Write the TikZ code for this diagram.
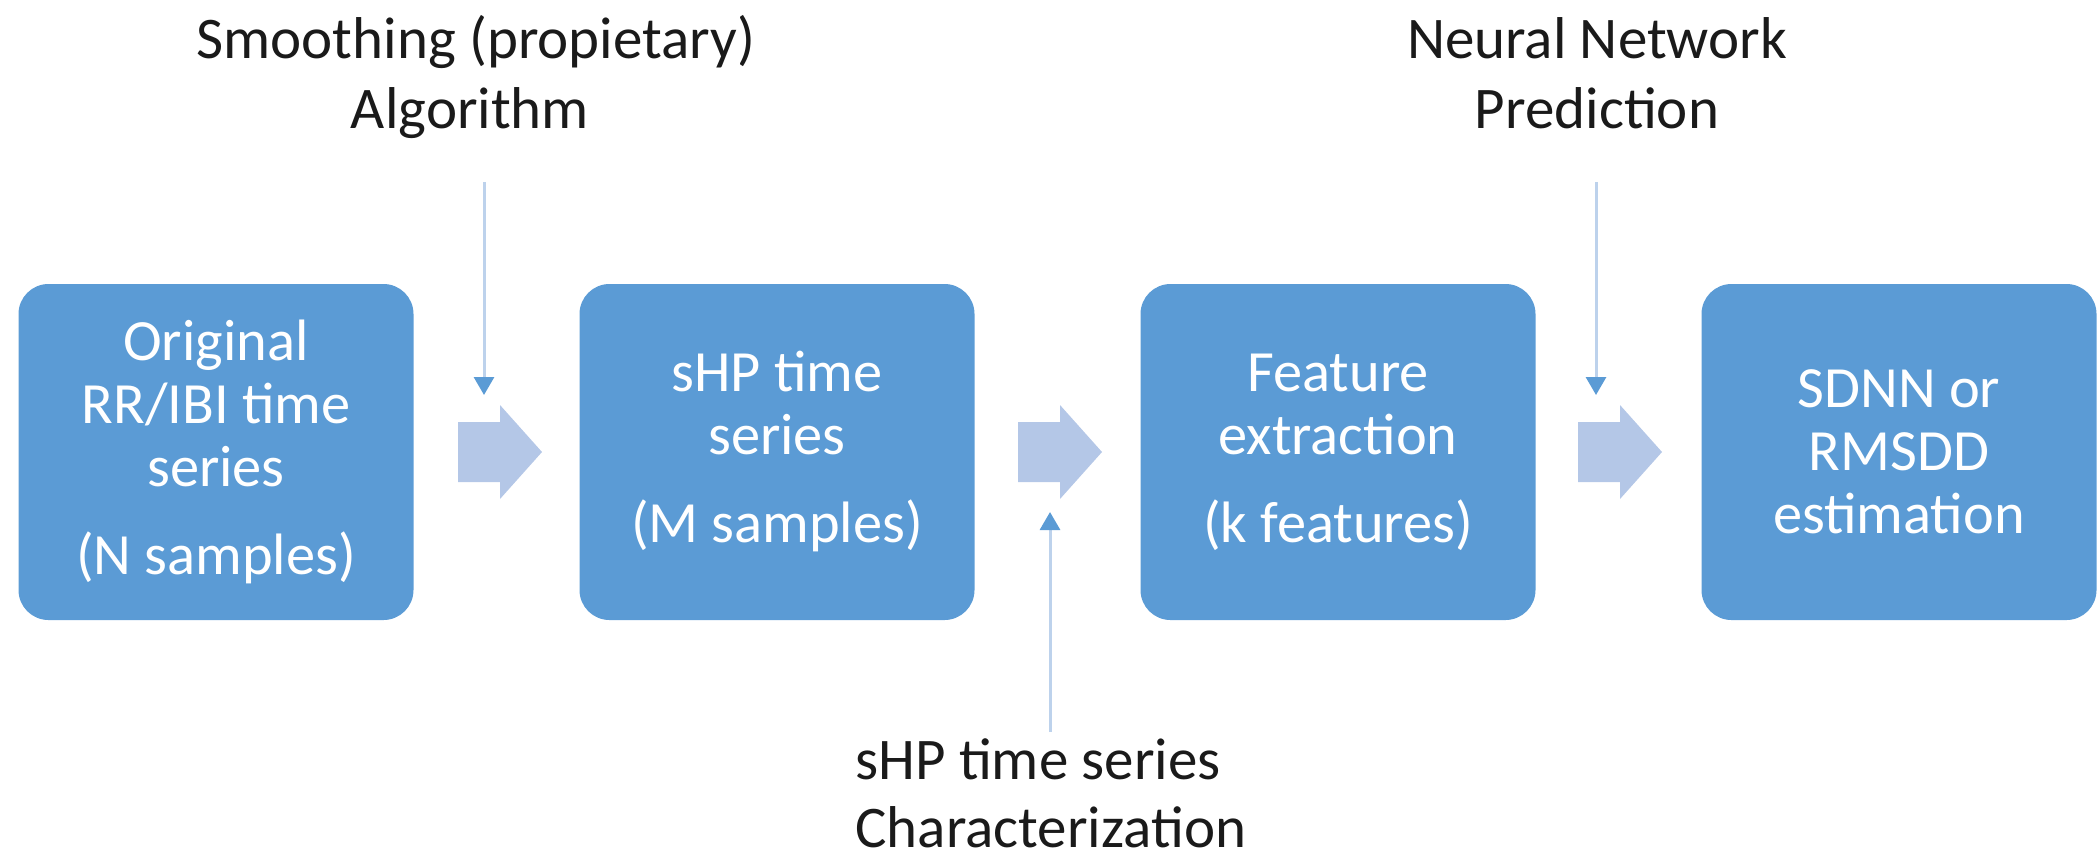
\documentclass[tikz,border=0pt]{standalone}
\usepackage{fontspec}
\setmainfont{Carlito}
\usetikzlibrary{arrows.meta}
\definecolor{boxblue}{HTML}{5B9BD5}
\definecolor{fatblue}{HTML}{B4C7E7}
\definecolor{lineblue}{HTML}{BDD2EC}
\definecolor{lbltext}{HTML}{1A1A1A}
\newcommand\fatarrow[1]{\fill[fatblue] ([shift={(0,-30)}]#1) -- ++(42,0) -- ++(0,-17) -- ++(42,47) -- ++(-42,47) -- ++(0,-17) -- ++(-42,0) -- cycle;}
\begin{document}
\begin{tikzpicture}[x=0.5pt,y=-0.5pt,
  stagebox/.style={fill=boxblue, rounded corners=15pt, minimum width=197.5pt, minimum height=168pt,
    inner sep=0pt, text=white, align=center, font=\fontsize{29.2}{31.5}\selectfont},
  lbl/.style={font=\fontsize{29.5}{35}\selectfont, text=lbltext, inner sep=0pt},
  thinarrow/.style={draw=lineblue, line width=1.5pt, -{Triangle[width=10pt,length=9pt,color=boxblue]}}
]
\useasboundingbox (0,0) rectangle (2098,858);

% stage boxes
\node[stagebox] (b1) at (216,452) {Original\\RR/IBI time\\series\\[12.5pt](N samples)};
\node[stagebox] (b2) at (777,452) {sHP time\\series\\[12.5pt](M samples)};
\node[stagebox] (b3) at (1338,452) {Feature\\extraction\\[12.5pt](k features)};
\node[stagebox] (b4) at (1899,452) {SDNN or\\RMSDD\\estimation};

% block arrows
\coordinate (fa1) at (458,452);
\coordinate (fa2) at (1018,452);
\coordinate (fa3) at (1578,452);
\fatarrow{fa1}
\fatarrow{fa2}
\fatarrow{fa3}

% labels
\node[lbl, anchor=base] (s1) at (476,58) {Smoothing (propietary)};
\node[lbl, anchor=base] (s2) at (470,128) {Algorithm};
\node[lbl, anchor=base] (n1) at (1597,58) {Neural Network};
\node[lbl, anchor=base] (n2) at (1597,128) {Prediction};
\node[lbl, anchor=base west] (c1) at (855,779) {sHP time series};
\node[lbl, anchor=base west] (c2) at (855,847) {Characterization};

% thin arrows
\coordinate (t1s) at (484,182);
\coordinate (t1e) at (484,395);
\coordinate (t2s) at (1050,732);
\coordinate (t2e) at (1050,512);
\coordinate (t3s) at (1596,182);
\coordinate (t3e) at (1596,395);
\draw[thinarrow] (t1s) -- (t1e);
\draw[thinarrow] (t2s) -- (t2e);
\draw[thinarrow] (t3s) -- (t3e);
\end{tikzpicture}
\end{document}
